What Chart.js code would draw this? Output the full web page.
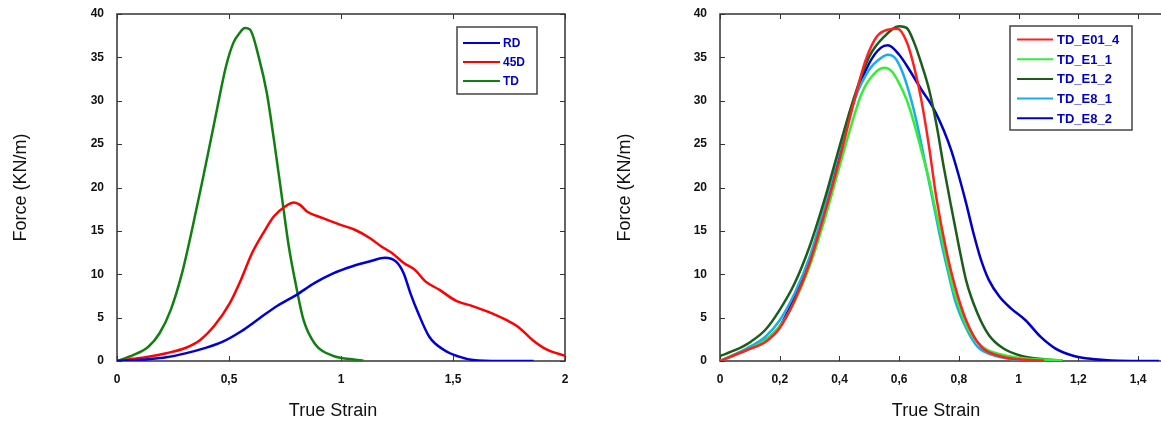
<!DOCTYPE html>
<html>
<head>
<meta charset="utf-8">
<script src="https://cdn.jsdelivr.net/npm/chart.js@4"></script>
<style>
  html, body { margin: 0; padding: 0; background: #fff; width: 1161px; height: 423px; overflow: hidden; }
  #left { position: absolute; left: 0; top: 0; }
  #right { position: absolute; left: 580px; top: 0; }
</style>
</head>
<body>
<canvas id="left" width="580" height="423"></canvas>
<canvas id="right" width="620" height="423"></canvas>
<script>
// left panel: RD / 45D / TD
const rdStrain = [0, 0.07, 0.14, 0.22, 0.305, 0.388, 0.47, 0.553, 0.635, 0.718, 0.8, 0.883, 0.965, 1.048, 1.13, 1.196, 1.246, 1.28, 1.31, 1.345, 1.394, 1.46, 1.527, 1.59, 1.71, 1.86];
const rdForce = [0, 0.08, 0.2, 0.42, 0.88, 1.46, 2.2, 3.4, 4.9, 6.4, 7.6, 9.0, 10.1, 10.9, 11.5, 11.9, 11.45, 10.1, 7.8, 5.5, 2.8, 1.27, 0.5, 0.12, 0, 0];

const d45Strain = [0, 0.07, 0.14, 0.22, 0.305, 0.37, 0.437, 0.503, 0.553, 0.602, 0.652, 0.7, 0.75, 0.79, 0.817, 0.85, 0.916, 0.998, 1.064, 1.13, 1.18, 1.23, 1.28, 1.33, 1.378, 1.44, 1.51, 1.59, 1.674, 1.74, 1.79, 1.856, 1.922, 2.0];
const d45Force = [0, 0.25, 0.5, 0.9, 1.5, 2.4, 4.15, 6.65, 9.35, 12.4, 14.7, 16.65, 17.8, 18.27, 18.0, 17.2, 16.5, 15.7, 15.1, 14.15, 13.2, 12.4, 11.3, 10.5, 9.15, 8.2, 7.0, 6.3, 5.5, 4.7, 3.96, 2.4, 1.27, 0.6];

const tdStrain = [0, 0.074, 0.14, 0.19, 0.24, 0.29, 0.338, 0.388, 0.437, 0.487, 0.52, 0.55, 0.57, 0.594, 0.635, 0.668, 0.7, 0.734, 0.767, 0.8, 0.833, 0.883, 0.965, 1.05, 1.1];
const tdForce = [0, 0.7, 1.65, 3.2, 5.9, 10.1, 15.5, 21.6, 27.8, 34, 36.7, 37.9, 38.4, 38.2, 34.8, 31, 25.6, 19.3, 13.2, 8.6, 4.7, 2.0, 0.6, 0.2, 0.05];

// right panel: TD specimens
const e01_4Strain = [0, 0.09, 0.152, 0.2, 0.25, 0.3, 0.35, 0.4, 0.45, 0.488, 0.525, 0.562, 0.594, 0.625, 0.65, 0.674, 0.7, 0.724, 0.755, 0.787, 0.824, 0.874, 0.936, 0.998, 1.085];
const e01_4Force = [0, 1.27, 2.2, 3.8, 7.0, 11.3, 17.0, 23.2, 30.1, 34.7, 37.4, 38.2, 38.3, 36.8, 33.9, 30.1, 24.7, 18.9, 13.2, 8.6, 4.7, 1.65, 0.58, 0.2, 0.04];

const e1_1Strain = [0, 0.09, 0.152, 0.2, 0.25, 0.3, 0.35, 0.4, 0.438, 0.475, 0.513, 0.55, 0.575, 0.6, 0.625, 0.65, 0.674, 0.7, 0.724, 0.749, 0.774, 0.8, 0.836, 0.886, 0.948, 1.023, 1.147];
const e1_1Force = [0, 1.27, 2.4, 4.0, 6.85, 10.9, 16.3, 22.4, 27.0, 30.9, 33.0, 33.8, 33.4, 32.0, 30.1, 27.4, 24.3, 20.9, 17.0, 13.2, 9.3, 6.3, 3.4, 1.46, 0.7, 0.3, 0.08];

const e1_2Strain = [0, 0.052, 0.102, 0.152, 0.2, 0.25, 0.3, 0.35, 0.4, 0.45, 0.5, 0.55, 0.6, 0.625, 0.65, 0.674, 0.7, 0.724, 0.749, 0.774, 0.8, 0.824, 0.862, 0.9, 0.948, 1.01, 1.085, 1.147];
const e1_2Force = [0.58, 1.27, 2.2, 3.6, 5.9, 8.96, 13.2, 18.6, 24.7, 30.5, 35.1, 37.4, 38.6, 38.4, 36.7, 34.3, 31.3, 27.4, 22.4, 17.8, 13.2, 9.3, 5.5, 3.0, 1.46, 0.58, 0.2, 0.04];

const e8_1Strain = [0, 0.09, 0.152, 0.2, 0.25, 0.3, 0.35, 0.4, 0.45, 0.5, 0.538, 0.562, 0.587, 0.612, 0.637, 0.662, 0.687, 0.712, 0.737, 0.762, 0.787, 0.824, 0.862, 0.911, 0.973, 1.085];
const e8_1Force = [0, 1.46, 2.8, 4.7, 7.8, 12.0, 17.8, 24.3, 30.1, 33.6, 34.9, 35.3, 34.9, 33.2, 30.5, 27.0, 22.8, 18.6, 14.3, 10.5, 7.0, 3.8, 1.65, 0.7, 0.23, 0.04];

const e8_2Strain = [0, 0.09, 0.152, 0.2, 0.25, 0.3, 0.35, 0.4, 0.45, 0.5, 0.538, 0.562, 0.6, 0.637, 0.674, 0.712, 0.749, 0.774, 0.8, 0.824, 0.849, 0.874, 0.9, 0.936, 0.973, 1.023, 1.073, 1.122, 1.185, 1.247, 1.334, 1.47];
const e8_2Force = [0, 1.27, 2.4, 4.0, 7.4, 11.65, 17.0, 23.6, 30.1, 34.35, 36.1, 36.4, 35.3, 33.4, 31.3, 29.3, 26.6, 24.3, 21.3, 18.2, 14.7, 11.65, 9.35, 7.4, 6.1, 4.7, 2.8, 1.46, 0.58, 0.23, 0.04, 0];

const leftXTicks = { min: 0, max: 2, step: 0.5 };
const rightXTicks = { min: 0, max: 1.5, step: 0.2 };
const forceTicks = { min: 0, max: 40, step: 5 };

const FONT = "'Liberation Sans', Arial, sans-serif";

function pts(xs, ys) {
  return xs.map((x, i) => ({ x: x, y: ys[i] }));
}

function line(label, xs, ys, color) {
  return {
    label: label,
    data: pts(xs, ys),
    borderColor: color,
    backgroundColor: color,
    borderWidth: 2.5,
    pointRadius: 0,
    cubicInterpolationMode: "monotone",
    fill: false,
  };
}

const comma = (v) => String(Math.round(v * 100) / 100).replace(".", ",");

// box with inward ticks on all four sides
const framePlugin = {
  id: "frame",
  beforeDatasetsDraw(chart) {
    const { ctx, chartArea: a, scales } = chart;
    ctx.save();
    ctx.strokeStyle = "#333";
    ctx.lineWidth = 1;
    ctx.beginPath();
    scales.x.ticks.forEach((t) => {
      const px = Math.round(scales.x.getPixelForValue(t.value)) + 0.5;
      ctx.moveTo(px, a.bottom); ctx.lineTo(px, a.bottom - 5);
      ctx.moveTo(px, a.top); ctx.lineTo(px, a.top + 5);
    });
    scales.y.ticks.forEach((t) => {
      const py = Math.round(scales.y.getPixelForValue(t.value)) + 0.5;
      ctx.moveTo(a.left, py); ctx.lineTo(a.left + 5, py);
      ctx.moveTo(a.right, py); ctx.lineTo(a.right - 5, py);
    });
    ctx.stroke();
    ctx.lineWidth = 1.5;
    ctx.strokeRect(a.left, a.top, a.right - a.left, a.bottom - a.top);
    ctx.restore();
  },
};

// axis titles
const titlePlugin = {
  id: "axisTitles",
  afterDraw(chart, args, o) {
    const { ctx, chartArea: a } = chart;
    ctx.save();
    ctx.fillStyle = "#111";
    ctx.font = "18px " + FONT;
    ctx.textAlign = "center";
    ctx.textBaseline = "middle";
    ctx.fillText(o.xText, (a.left + a.right) / 2 - 8, 411);
    ctx.translate(o.yX, (a.top + a.bottom) / 2);
    ctx.rotate(-Math.PI / 2);
    ctx.fillText(o.yText, 0, 0);
    ctx.restore();
  },
};

// framed legend inside the plot
const boxLegend = {
  id: "boxLegend",
  afterDraw(chart, args, o) {
    const { ctx } = chart;
    ctx.save();
    ctx.fillStyle = "#fff";
    ctx.fillRect(o.x, o.y, o.w, o.h);
    ctx.strokeStyle = "#444";
    ctx.lineWidth = 1.5;
    ctx.strokeRect(o.x, o.y, o.w, o.h);
    ctx.font = "bold " + o.size + "px " + FONT;
    ctx.textBaseline = "middle";
    chart.data.datasets.forEach((ds, i) => {
      const y = o.y + o.first + i * o.gap;
      ctx.strokeStyle = ds.borderColor;
      ctx.lineWidth = 2;
      ctx.beginPath();
      ctx.moveTo(o.x + o.line[0], y);
      ctx.lineTo(o.x + o.line[1], y);
      ctx.stroke();
      ctx.fillStyle = "#0000cc";
      ctx.fillText(ds.label, o.x + o.text, y + 1);
    });
    ctx.restore();
  },
};

function options(xt, yAxisWidth, padRight, legend, yTitleX) {
  return {
    responsive: false,
    animation: false,
    layout: { padding: { top: 14, right: padRight, bottom: 0, left: 0 } },
    scales: {
      x: {
        type: "linear",
        min: xt.min,
        max: xt.max,
        grid: { display: false, drawTicks: false },
        border: { display: false },
        afterFit: (s) => { s.height = 62; s.paddingLeft = 0; s.paddingRight = 0; },
        ticks: {
          stepSize: xt.step,
          includeBounds: false,
          autoSkip: false,
          maxRotation: 0,
          padding: 11,
          color: "#111",
          font: { family: FONT, size: 12, weight: "bold" },
          callback: comma,
        },
      },
      y: {
        min: forceTicks.min,
        max: forceTicks.max,
        grid: { display: false, drawTicks: false },
        border: { display: false },
        afterFit: (s) => { s.width = yAxisWidth; s.paddingTop = 0; s.paddingBottom = 0; },
        ticks: {
          stepSize: forceTicks.step,
          padding: 13,
          color: "#111",
          font: { family: FONT, size: 12, weight: "bold" },
          callback: comma,
        },
      },
    },
    plugins: {
      legend: { display: false },
      tooltip: { enabled: false },
      boxLegend: legend,
      axisTitles: { xText: "True Strain", yText: "Force (KN/m)", yX: yTitleX },
    },
  };
}

new Chart(document.getElementById("left"), {
  type: "line",
  data: {
    datasets: [
      line("RD", rdStrain, rdForce, "#0000dd"),
      line("45D", d45Strain, d45Force, "#ff0000"),
      line("TD", tdStrain, tdForce, "#108010"),
    ],
  },
  options: options(leftXTicks, 117, 15,
    { x: 457, y: 27, w: 80, h: 67, line: [6, 43], text: 46, first: 16, gap: 19, size: 12 }, 21),
  plugins: [framePlugin, titlePlugin, boxLegend],
});

new Chart(document.getElementById("right"), {
  type: "line",
  data: {
    datasets: [
      line("TD_E01_4", e01_4Strain, e01_4Force, "#ff2020"),
      line("TD_E1_1", e1_1Strain, e1_1Force, "#33ee33"),
      line("TD_E1_2", e1_2Strain, e1_2Force, "#1a5e1a"),
      line("TD_E8_1", e8_1Strain, e8_1Force, "#1aaee8"),
      line("TD_E8_2", e8_2Strain, e8_2Force, "#0000c8"),
    ],
  },
  options: options(rightXTicks, 140, 32,
    { x: 430, y: 26, w: 122, h: 104, line: [7, 43], text: 47, first: 13.5, gap: 19.7, size: 13 }, 45),
  plugins: [framePlugin, titlePlugin, boxLegend],
});
</script>
</body>
</html>
